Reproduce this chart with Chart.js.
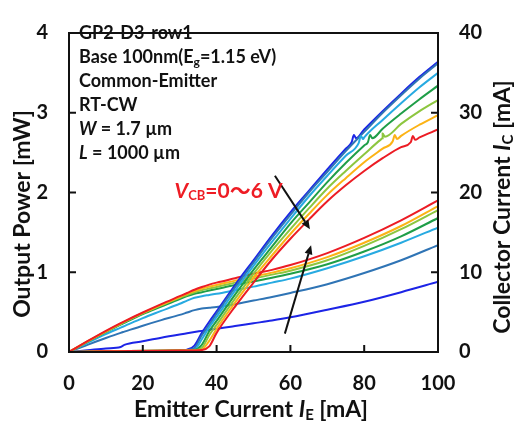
<!DOCTYPE html>
<html>
<head>
<meta charset="utf-8">
<script src="https://cdn.jsdelivr.net/npm/chart.js@4.4.0/dist/chart.umd.min.js"></script>
<style>
html, body { margin: 0; padding: 0; background: #fff; }
</style>
</head>
<body>
<canvas id="chart" width="518" height="423"></canvas>
<script>
// emitter current grid for the output power (L-I) curves
const ieLI = [0, 30, 32, 34, 36, 38, 40, 45, 50, 55, 60, 65, 70, 75, 80, 85, 90, 95, 100];
const power0 = [0, 0.02, 0.03, 0.08, 0.24, 0.38, 0.51, 0.84, 1.15, 1.46, 1.75, 2.02, 2.29, 2.55, 2.79, 3.02, 3.24, 3.45, 3.64];
const power1 = [0, 0.02, 0.025, 0.05, 0.21, 0.34, 0.48, 0.81, 1.12, 1.43, 1.72, 2.00, 2.26, 2.52, 2.76, 3.00, 3.22, 3.43, 3.62];
const power2 = [0, 0.02, 0.022, 0.03, 0.16, 0.31, 0.44, 0.77, 1.08, 1.38, 1.67, 1.95, 2.21, 2.46, 2.69, 2.91, 3.12, 3.32, 3.50];
const power3 = [0, 0.02, 0.02, 0.025, 0.09, 0.26, 0.39, 0.72, 1.03, 1.32, 1.61, 1.87, 2.13, 2.37, 2.59, 2.80, 2.99, 3.17, 3.34];
const power4 = [0, 0.02, 0.02, 0.022, 0.05, 0.21, 0.34, 0.67, 0.98, 1.27, 1.54, 1.80, 2.05, 2.27, 2.48, 2.68, 2.86, 3.02, 3.16];
const power5 = [0, 0.02, 0.02, 0.02, 0.03, 0.14, 0.29, 0.62, 0.93, 1.21, 1.48, 1.73, 1.97, 2.18, 2.38, 2.55, 2.71, 2.85, 2.97];
const power6 = [0, 0.02, 0.02, 0.02, 0.025, 0.07, 0.24, 0.57, 0.87, 1.16, 1.42, 1.66, 1.89, 2.09, 2.27, 2.43, 2.57, 2.69, 2.79];

// small kinks on the L-I curves, [IE, P]
const kinks = [
	[[76.6, 2.63], [77.2, 2.72], [77.8, 2.68]],
	[],
	[[78.5, 2.62], [79.1, 2.71], [79.7, 2.67]],
	[[81.0, 2.63], [81.6, 2.72], [82.2, 2.68]],
	[[84.4, 2.66], [85.0, 2.74], [85.6, 2.70]],
	[[87.7, 2.64], [88.3, 2.72], [88.9, 2.67]],
	[[92.6, 2.63], [93.2, 2.71], [93.8, 2.66]]
];

// emitter current grid for the collector current curves
const ieIC = [0, 5, 10, 14, 15, 20, 25, 30, 32, 34, 36, 38, 40, 45, 50, 55, 60, 70, 80, 90, 100];
const ic0 = [0, 0.22, 0.45, 0.63, 0.9, 1.35, 1.8, 2.2, 2.35, 2.5, 2.65, 2.8, 2.9, 3.25, 3.6, 3.95, 4.35, 5.3, 6.3, 7.5, 8.8];
const ic1 = [0, 0.9, 1.75, 2.4, 2.55, 3.3, 4.0, 4.65, 4.95, 5.25, 5.45, 5.55, 5.65, 6.0, 6.45, 6.9, 7.4, 8.5, 9.9, 11.5, 13.4];
const ic2 = [0, 1.15, 2.25, 3.05, 3.25, 4.25, 5.15, 6.05, 6.45, 6.8, 7.0, 7.15, 7.3, 7.75, 8.2, 8.7, 9.2, 10.5, 12.0, 13.7, 15.6];
const ic3 = [0, 1.28, 2.5, 3.42, 3.65, 4.75, 5.7, 6.65, 7.0, 7.3, 7.5, 7.7, 7.9, 8.4, 8.85, 9.3, 9.8, 11.0, 12.6, 14.5, 16.8];
const ic4 = [0, 1.3, 2.55, 3.51, 3.75, 4.85, 5.85, 6.8, 7.15, 7.5, 7.75, 7.95, 8.15, 8.7, 9.2, 9.7, 10.2, 11.5, 13.3, 15.4, 17.8];
const ic5 = [0, 1.33, 2.6, 3.56, 3.8, 4.9, 5.9, 6.9, 7.3, 7.65, 7.95, 8.2, 8.4, 8.95, 9.45, 9.95, 10.5, 11.9, 13.7, 15.8, 18.3];
const ic6 = [0, 1.35, 2.65, 3.62, 3.85, 4.95, 6.0, 7.0, 7.4, 7.8, 8.15, 8.45, 8.7, 9.25, 9.8, 10.3, 10.9, 12.4, 14.3, 16.5, 19.0];

const vcbLabels = ['0 V', '1 V', '2 V', '3 V', '4 V', '5 V', '6 V'];
const colors = ['#1c24e6', '#2f74b5', '#27aae1', '#1f9e48', '#8dc63f', '#fcb315', '#ec1c24'];

const xTicks = [0, 20, 40, 60, 80, 100];
const powerTicks = [0, 1, 2, 3, 4];
const icTicks = [0, 10, 20, 30, 40];

const powerSeries = [power0, power1, power2, power3, power4, power5, power6];
const icSeries = [ic0, ic1, ic2, ic3, ic4, ic5, ic6];

const FONT = "Lato, 'Noto Sans CJK SC', sans-serif";

function toPoints(xs, ys, extra) {
	const pts = xs.map((x, i) => ({ x: x, y: ys[i] }));
	(extra || []).forEach(p => pts.push({ x: p[0], y: p[1] }));
	return pts.sort((a, b) => a.x - b.x);
}

const datasets = [];
powerSeries.forEach((ys, i) => {
	datasets.push({
		label: 'P ' + vcbLabels[i],
		data: toPoints(ieLI, ys, kinks[i]),
		yAxisID: 'y',
		borderColor: colors[i],
		borderWidth: 2,
		pointRadius: 0,
		cubicInterpolationMode: 'monotone',
		order: 6 - i
	});
});
icSeries.forEach((ys, i) => {
	datasets.push({
		label: 'Ic ' + vcbLabels[i],
		data: toPoints(ieIC, ys),
		yAxisID: 'y2',
		borderColor: colors[i],
		borderWidth: 2,
		pointRadius: 0,
		cubicInterpolationMode: 'monotone',
		order: 20 - i
	});
});

// draw text made of runs with different fonts / offsets
function runWidth(ctx, parts) {
	let w = 0;
	parts.forEach(p => { ctx.font = p.f; w += ctx.measureText(p.t).width; });
	return w;
}
function drawRuns(ctx, x, y, parts) {
	parts.forEach(p => {
		ctx.font = p.f;
		ctx.fillText(p.t, x, y + (p.dy || 0));
		x += ctx.measureText(p.t).width;
	});
}

const frameAndText = {
	id: 'frameAndText',
	afterDatasetsDraw(chart) {
		const ctx = chart.ctx;
		const a = chart.chartArea;
		const sx = chart.scales.x, sy = chart.scales.y, sy2 = chart.scales.y2;
		ctx.save();
		ctx.strokeStyle = '#111';
		ctx.lineWidth = 2;
		ctx.strokeRect(a.left, a.top, a.right - a.left, a.bottom - a.top);
		// inward ticks
		ctx.beginPath();
		xTicks.forEach(v => {
			const px = sx.getPixelForValue(v);
			ctx.moveTo(px, a.bottom); ctx.lineTo(px, a.bottom - 7);
		});
		powerTicks.forEach(v => {
			const py = sy.getPixelForValue(v);
			ctx.moveTo(a.left, py); ctx.lineTo(a.left + 7, py);
		});
		icTicks.forEach(v => {
			const py = sy2.getPixelForValue(v);
			ctx.moveTo(a.right, py); ctx.lineTo(a.right - 7, py);
		});
		ctx.stroke();

		// arrows
		const arrows = [[55.8, 2.21, 65.3, 1.54], [58.5, 0.23, 65.6, 1.34]];
		ctx.fillStyle = '#111';
		arrows.forEach(ar => {
			const x1 = sx.getPixelForValue(ar[0]), y1 = sy.getPixelForValue(ar[1]);
			const x2 = sx.getPixelForValue(ar[2]), y2 = sy.getPixelForValue(ar[3]);
			const ang = Math.atan2(y2 - y1, x2 - x1);
			const hl = 9, hw = 4;
			ctx.beginPath();
			ctx.moveTo(x1, y1);
			ctx.lineTo(x2 - hl * Math.cos(ang), y2 - hl * Math.sin(ang));
			ctx.stroke();
			ctx.beginPath();
			ctx.moveTo(x2, y2);
			ctx.lineTo(x2 - hl * Math.cos(ang) + hw * Math.sin(ang), y2 - hl * Math.sin(ang) - hw * Math.cos(ang));
			ctx.lineTo(x2 - hl * Math.cos(ang) - hw * Math.sin(ang), y2 - hl * Math.sin(ang) + hw * Math.cos(ang));
			ctx.closePath();
			ctx.fill();
		});

		// info block
		ctx.fillStyle = '#111';
		ctx.textBaseline = 'middle';
		ctx.textAlign = 'left';
		const b = 'bold 18px ' + FONT, bi = 'italic bold 18px ' + FONT, sub = 'bold 12px ' + FONT;
		const lines = [
			[{ t: 'GP2-D3-row1', f: b }],
			[{ t: 'Base 100nm(E', f: b }, { t: 'g', f: sub, dy: 5 }, { t: '=1.15 eV)', f: b }],
			[{ t: 'Common-Emitter', f: b }],
			[{ t: 'RT-CW', f: b }],
			[{ t: 'W', f: bi }, { t: ' = 1.7 \u00b5m', f: b }],
			[{ t: 'L', f: bi }, { t: ' = 1000 \u00b5m', f: b }]
		];
		lines.forEach((ln, i) => drawRuns(ctx, a.left + 10, 33 + i * 24, ln));

		// VCB label
		ctx.fillStyle = '#ee1c24';
		const vx = sx.getPixelForValue(28.6), vy = sy.getPixelForValue(2.02);
		drawRuns(ctx, vx, vy, [
			{ t: 'V', f: 'italic bold 21px ' + FONT },
			{ t: 'CB', f: 'bold 13px ' + FONT, dy: 5 },
			{ t: '=0\uff5e6 V', f: 'bold 21px ' + FONT }
		]);

		// axis titles
		ctx.fillStyle = '#111';
		const tb = 'bold 23px ' + FONT, ti = 'italic bold 23px ' + FONT, ts = 'bold 15px ' + FONT;
		const xt = [{ t: 'Emitter Current ', f: tb }, { t: 'I', f: ti }, { t: 'E', f: ts, dy: 5 }, { t: ' [mA]', f: tb }];
		drawRuns(ctx, 251 - runWidth(ctx, xt) / 2, 410, xt);

		const yt = [{ t: 'Output Power [mW]', f: tb }];
		ctx.save();
		ctx.translate(23, 214);
		ctx.rotate(-Math.PI / 2);
		drawRuns(ctx, -runWidth(ctx, yt) / 2, 0, yt);
		ctx.restore();

		const y2t = [{ t: 'Collector Current ', f: tb }, { t: 'I', f: ti }, { t: 'C', f: ts, dy: 5 }, { t: ' [mA]', f: tb }];
		ctx.save();
		ctx.translate(503, 207);
		ctx.rotate(-Math.PI / 2);
		drawRuns(ctx, -runWidth(ctx, y2t) / 2, 0, y2t);
		ctx.restore();

		ctx.restore();
	}
};

const tickFont = { family: FONT, size: 20, weight: 'bold' };

new Chart(document.getElementById('chart'), {
	type: 'line',
	data: { datasets: datasets },
	options: {
		responsive: false,
		animation: false,
		layout: { padding: { top: 17, left: 0, right: 0, bottom: 0 } },
		plugins: { legend: { display: false }, tooltip: { enabled: false } },
		scales: {
			x: {
				type: 'linear',
				min: 0, max: 100,
				afterFit: s => { s.height = 71; },
				afterBuildTicks: s => { s.ticks = xTicks.map(v => ({ value: v })); },
				grid: { display: false, drawTicks: false },
				border: { display: false },
				ticks: { font: tickFont, color: '#111', padding: 20, maxRotation: 0 }
			},
			y: {
				type: 'linear', position: 'left',
				min: 0, max: 4,
				afterFit: s => { s.width = 69; },
				afterBuildTicks: s => { s.ticks = powerTicks.map(v => ({ value: v })); },
				grid: { display: false, drawTicks: false },
				border: { display: false },
				ticks: { font: tickFont, color: '#111', padding: 21 }
			},
			y2: {
				type: 'linear', position: 'right',
				min: 0, max: 40,
				afterFit: s => { s.width = 80; },
				afterBuildTicks: s => { s.ticks = icTicks.map(v => ({ value: v })); },
				grid: { display: false, drawTicks: false },
				border: { display: false },
				ticks: { font: tickFont, color: '#111', padding: 21 }
			}
		}
	},
	plugins: [frameAndText]
});
</script>
</body>
</html>
